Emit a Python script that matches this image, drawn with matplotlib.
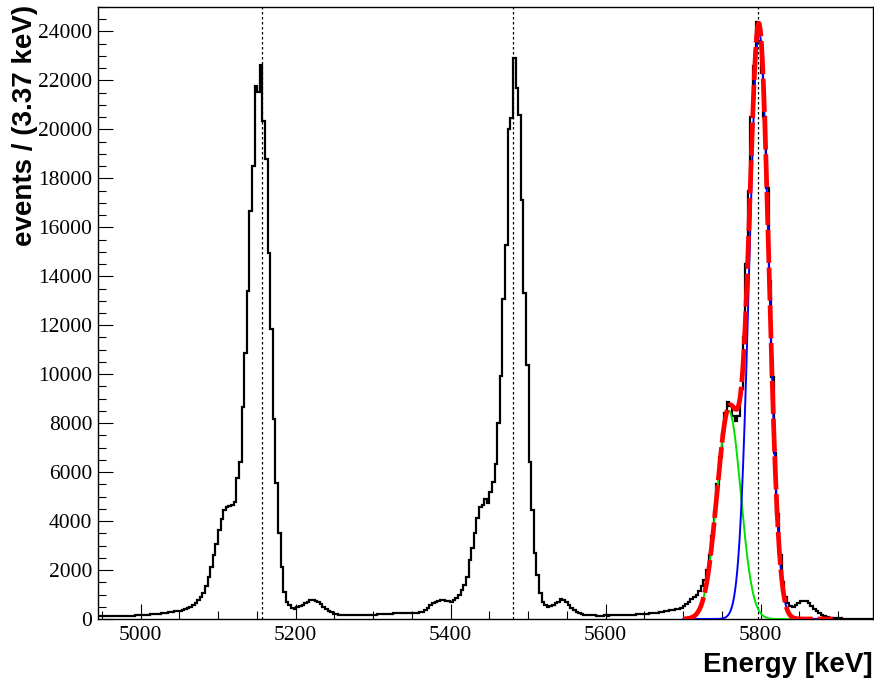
import numpy as np
import matplotlib
matplotlib.use("Agg")
import matplotlib.pyplot as plt
from matplotlib.ticker import MultipleLocator

# ---------------- data ----------------
e_min, e_max, n_bins = 4945.0, 5945.0, 297

counts = [
    # 4945 - 5050
    110, 105, 115, 110, 120, 115, 120, 125, 120, 130,
    130, 135, 140, 140, 150, 155, 160, 165, 175, 180,
    190, 200, 210, 220, 235, 250, 265, 280, 300, 320,
    340,
    # 5050 - 5200 (peak 1)
    340, 370, 400, 430, 480, 570, 640, 760, 900, 1070,
    1360, 1730, 2130, 2610, 3060, 3630, 4090, 4450, 4560, 4610,
    4650, 4790, 5740, 6420, 8670, 10870, 13400, 16660, 18500, 21760,
    21520, 22640, 20330, 18800, 14950, 11860, 8150, 5540, 3500, 2130,
    1110, 710, 570, 440, 420,
    # 5200 - 5255 (bump)
    480, 520, 580, 650, 700, 760, 780, 740, 680, 600,
    500, 420, 340, 270, 220, 190,
    # 5255 - 5360
    170, 160, 160, 150, 150, 155, 150, 150, 155, 160,
    160, 165, 170, 175, 180, 185, 190, 200, 210,
    215, 220, 225, 230, 235, 240, 240, 245, 250, 255, 255, 260,
    # 5360 - 5570 (peak 2)
    270, 300, 370, 450, 560, 640, 700, 735, 775, 760,
    750, 720, 710, 760, 845, 980, 1180, 1390, 1730, 2410,
    2880, 3500, 4110, 4580, 4650, 4920, 4720, 5200, 5600, 6350,
    8010, 9910, 13080, 15280, 20010, 20450, 22920, 21680, 20600, 17130,
    13310, 10360, 6420, 4450, 2680, 1800, 1050, 710, 570, 500,
    520, 580, 650, 710, 800, 760, 680, 560, 450, 350,
    280, 230, 190,
    # 5570 - 5686
    170, 160, 150, 150, 145, 140, 140, 140, 145, 140,
    145, 150, 150, 155, 160, 160, 165, 170, 175, 180,
    185, 190, 200, 210, 220, 230, 240, 250, 265, 280,
    300, 320, 340, 360,
    # 5686 - 5945 (peak 3)
    380, 400, 420, 460, 520, 600, 700, 800, 900, 1000,
    1150, 1350, 1600, 2000, 2600, 3400, 4400, 5500, 6600, 7600,
    8400, 8850, 8700, 8300, 8100, 8300, 9400, 11500, 14500, 17500,
    20500, 22600, 24400, 23600, 22300, 20500, 17600, 13800, 9900, 6800,
    4300, 2600, 1500, 900, 650, 530, 500, 560, 650, 730,
    750, 720, 640, 530, 420, 320, 240, 170, 120, 90,
    60, 50, 40, 30, 25, 20, 20, 15, 15, 10,
    10, 15, 10, 10, 5, 10, 5,
]

# fit components (amplitude, mean, sigma) and fit range
green_par = (8500.0, 5759.0, 15.3)
blue_par = (24000.0, 5798.0, 12.6)
fit_range = (5700.0, 5893.0)

# reference peak energies (dotted lines)
line_energies = [5156.0, 5480.0, 5797.0]

x_ticks = [5000, 5200, 5400, 5600, 5800]
y_ticks = list(range(0, 24001, 2000))

# ---------------- plot ----------------
W, H = 874, 684
fig = plt.figure(figsize=(W / 100, H / 100), dpi=100)
ax = fig.add_axes([98 / W, 65 / H, 775 / W, 612 / H])

edges = np.linspace(e_min, e_max, n_bins + 1)
vals = np.array(counts[:n_bins], dtype=float)
if len(vals) < n_bins:
    vals = np.concatenate([vals, np.full(n_bins - len(vals), vals[-1])])

ax.stairs(vals, edges, color="black", linewidth=1.6, baseline=None, zorder=3)

for e in line_energies:
    ax.axvline(e, color="black", linestyle=(0, (2, 2)), linewidth=0.9, zorder=2)

xf = np.linspace(fit_range[0], fit_range[1], 600)
def gauss(x, p):
    a, m, s = p
    return a * np.exp(-0.5 * ((x - m) / s) ** 2)

g = gauss(xf, green_par)
b = gauss(xf, blue_par)
ax.plot(xf, g, color="#00e000", linewidth=1.4, zorder=4)
ax.plot(xf, b, color="#0000ff", linewidth=1.4, zorder=4)
ax.plot(xf, g + b, color="#ff0000", linewidth=3.4, linestyle=(0, (7, 1.0)), zorder=5)

ax.set_xlim(e_min, e_max)
ax.set_ylim(0, 25000)

ax.set_xticks(x_ticks)
ax.set_yticks(y_ticks)
ax.xaxis.set_minor_locator(MultipleLocator(50))
ax.yaxis.set_minor_locator(MultipleLocator(500))
ax.tick_params(which="both", direction="in", top=False, right=False)
ax.tick_params(which="major", length=11, width=0.8)
ax.tick_params(which="minor", length=6, width=0.8)
ax.tick_params(axis="x", pad=5)
ax.tick_params(axis="y", pad=4)

for lab in ax.get_xticklabels() + ax.get_yticklabels():
    lab.set_family("Liberation Serif")
    lab.set_fontsize(15.5)

for sp in ax.spines.values():
    sp.set_linewidth(1.0)

fig.text(873 / W, 1 - 665 / H, "Energy [keV]", ha="right", va="center",
         fontsize=20, fontweight="bold", family="Liberation Sans")
fig.text(25 / W, 1 - 5 / H, "events / (3.37 keV)", ha="center", va="top",
         rotation=90, fontsize=20, fontweight="bold", family="Liberation Sans")

fig.savefig("out.png", dpi=100)
